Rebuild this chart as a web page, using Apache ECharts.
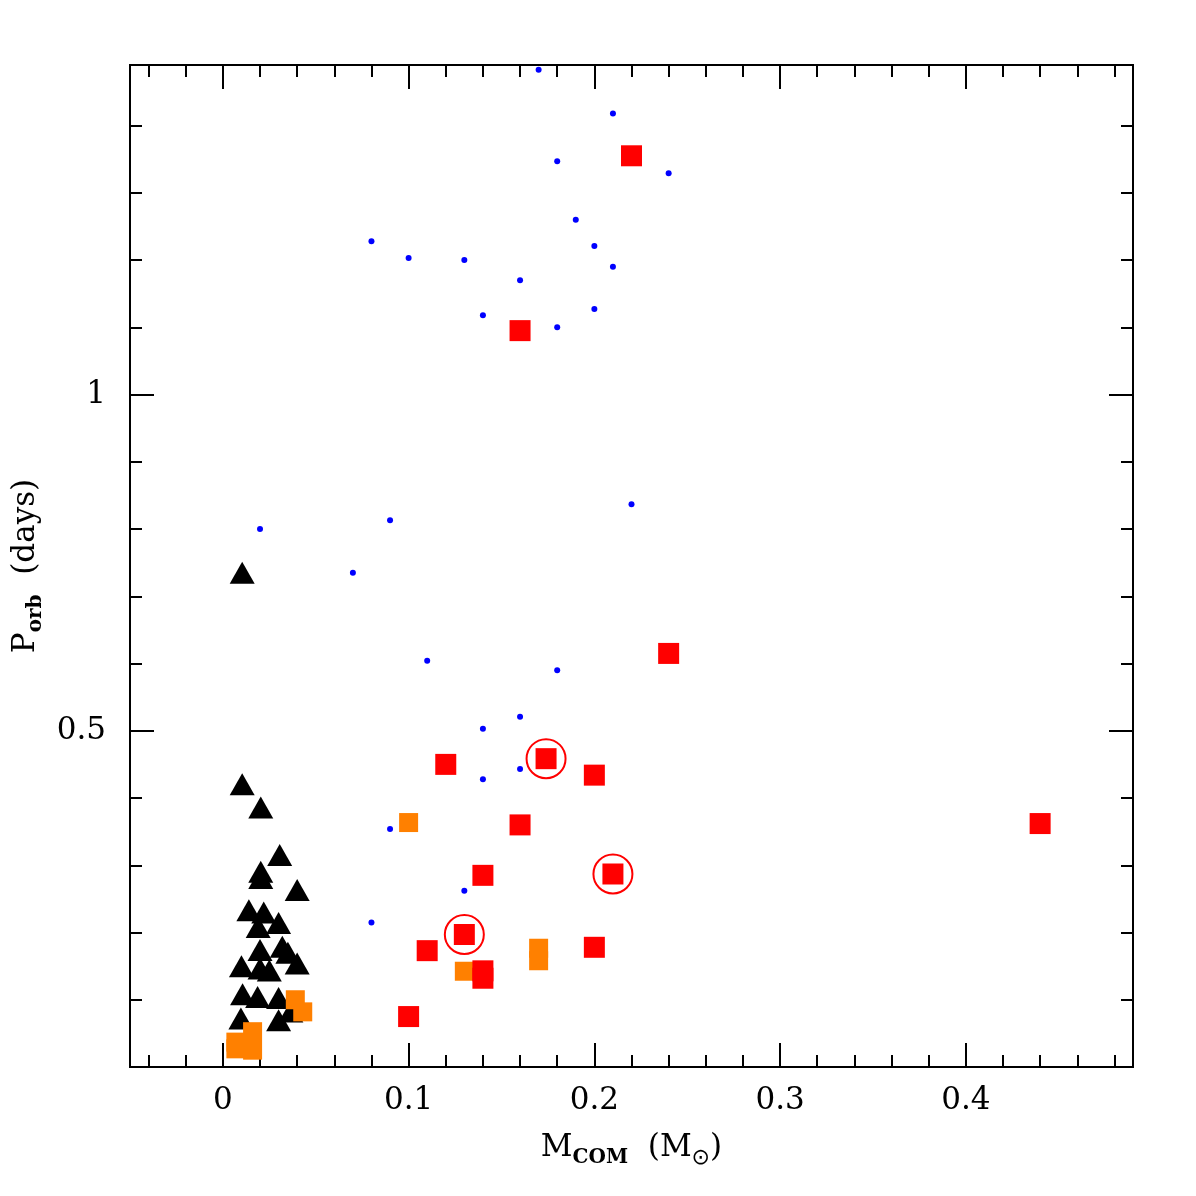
<!DOCTYPE html>
<html>
<head>
<meta charset="utf-8">
<script src="https://cdn.jsdelivr.net/npm/echarts@6/dist/echarts.min.js"></script>
<style>
  html, body { margin: 0; padding: 0; background: #fff; }
  #chart { width: 1196px; height: 1196px; }
</style>
</head>
<body>
<div id="chart"></div>
<script>
// 数据 (M_COM, P_orb)
const blueDots = [
    [0.17, 1.483], [0.21, 1.418], [0.18, 1.347], [0.24, 1.329], [0.19, 1.26],
    [0.08, 1.228], [0.2, 1.221], [0.1, 1.203], [0.13, 1.2], [0.21, 1.19],
    [0.16, 1.17], [0.2, 1.127], [0.14, 1.118], [0.18, 1.1], [0.22, 0.837],
    [0.09, 0.813], [0.02, 0.8], [0.07, 0.735], [0.11, 0.604], [0.18, 0.59],
    [0.16, 0.521], [0.14, 0.503], [0.16, 0.443], [0.14, 0.428], [0.09, 0.354],
    [0.13, 0.262], [0.08, 0.215]
];

const blackTriangles = [
    [0.0104, 0.735], [0.0104, 0.4206], [0.0204, 0.386], [0.0306, 0.3154],
    [0.0204, 0.2904], [0.0204, 0.281], [0.04, 0.2633], [0.014, 0.2331],
    [0.022, 0.2298], [0.019, 0.2083], [0.03, 0.2142], [0.02, 0.174],
    [0.032, 0.179], [0.035, 0.17], [0.01, 0.15], [0.02, 0.1465],
    [0.025, 0.1436], [0.04, 0.154], [0.0106, 0.108], [0.0187, 0.104],
    [0.03, 0.1026], [0.0097, 0.072], [0.03, 0.0695], [0.0366, 0.0826]
];

const orangeSquares = [
    [0.1, 0.3635], [0.13, 0.1424], [0.17, 0.1766], [0.17, 0.158],
    [0.039, 0.1], [0.043, 0.082], [0.016, 0.0525], [0.007, 0.037],
    [0.007, 0.027], [0.016, 0.025]
];

const redSquares = [
    [0.22, 1.355], [0.16, 1.095], [0.24, 0.615], [0.44, 0.362],
    [0.12, 0.45], [0.174, 0.4585], [0.2, 0.434], [0.16, 0.36],
    [0.14, 0.285], [0.21, 0.287], [0.13, 0.197], [0.11, 0.173],
    [0.14, 0.143], [0.14, 0.132], [0.2, 0.178], [0.1, 0.075]
];

// 带圆圈的红方块
const circled = [[0.174, 0.4585], [0.21, 0.287], [0.13, 0.197]];

// 刻度
const xMajor = [0, 0.1, 0.2, 0.3, 0.4];
const xMinor = [-0.04, -0.02, 0.02, 0.04, 0.06, 0.08, 0.12, 0.14, 0.16, 0.18,
    0.22, 0.24, 0.26, 0.28, 0.32, 0.34, 0.36, 0.38, 0.42, 0.44, 0.46, 0.48];
const yMajor = [0, 0.5, 1];
const yMinor = [0.1, 0.2, 0.3, 0.4, 0.6, 0.7, 0.8, 0.9, 1.1, 1.2, 1.3, 1.4];
const xLabels = [0, 0.1, 0.2, 0.3, 0.4];
const yLabels = [0.5, 1];

const FONT = 'DejaVu Serif';
const chart = echarts.init(document.getElementById('chart'));

const tickAxis = (type, pos, ticks, len, labels, extra) => {
    const isX = type === 'x';
    return Object.assign({
        type: 'value',
        position: pos,
        min: isX ? -0.05 : 0,
        max: isX ? 0.49 : 1.49,
        axisLine: { show: true, onZero: false, lineStyle: { color: '#000', width: 2 } },
        axisTick: { show: true, inside: true, length: len, customValues: ticks,
            lineStyle: { color: '#000', width: 2 } },
        axisLabel: labels ? {
            show: true, customValues: labels, fontFamily: FONT, fontSize: 31, color: '#000',
            margin: isX ? 18 : 24,
            formatter: v => String(Math.round(v * 10) / 10)
        } : { show: false },
        splitLine: { show: false }
    }, extra || {});
};

const nameRich = {
    a: { fontFamily: FONT, fontSize: 31, color: '#000' },
    s: { fontFamily: FONT, fontSize: 20, fontWeight: 'bold', color: '#000', padding: [20, 0, 0, 0] },
    o: { fontFamily: 'DejaVu Sans', fontSize: 22, color: '#000', padding: [20, 0, 0, 0] }
};

const option = {
    backgroundColor: '#fff',
    animation: false,
    grid: { left: 130, right: 63, top: 65, bottom: 129 },
    xAxis: [
        tickAxis('x', 'bottom', xMajor, 24, xLabels, {
            name: '{a|M}{s|COM}{a|  (M}{o|⊙}{a|)}',
            nameLocation: 'middle',
            nameGap: 60,
            nameTextStyle: { rich: nameRich }
        }),
        tickAxis('x', 'bottom', xMinor, 12, null),
        tickAxis('x', 'top', xMajor, 24, null),
        tickAxis('x', 'top', xMinor, 12, null)
    ],
    yAxis: [
        tickAxis('y', 'left', yMajor, 24, yLabels, {
            name: '{a|P}{s|orb}{a|  (days)}',
            nameLocation: 'middle',
            nameGap: 80,
            nameTextStyle: { rich: nameRich }
        }),
        tickAxis('y', 'left', yMinor, 12, null),
        tickAxis('y', 'right', yMajor, 24, null),
        tickAxis('y', 'right', yMinor, 12, null)
    ],
    series: [
        {
            name: 'blue', type: 'scatter', data: blueDots,
            symbol: 'circle', symbolSize: 6,
            itemStyle: { color: '#0000ff', opacity: 1 }, z: 2
        },
        {
            name: 'triangle', type: 'scatter', data: blackTriangles,
            symbol: 'triangle', symbolSize: [25, 22],
            itemStyle: { color: '#000', opacity: 1 }, z: 3
        },
        {
            name: 'orange', type: 'scatter', data: orangeSquares,
            symbol: 'rect', symbolSize: 19,
            itemStyle: { color: '#ff8000', opacity: 1 }, z: 4
        },
        {
            name: 'red', type: 'scatter', data: redSquares,
            symbol: 'rect', symbolSize: 21,
            itemStyle: { color: '#ff0000', opacity: 1 }, z: 5
        },
        {
            name: 'circle', type: 'scatter', data: circled,
            symbol: 'circle', symbolSize: 39,
            itemStyle: { color: 'rgba(0,0,0,0)', borderColor: '#ff0000', borderWidth: 2, opacity: 1 }, z: 6
        }
    ]
};

chart.setOption(option);
</script>
</body>
</html>
